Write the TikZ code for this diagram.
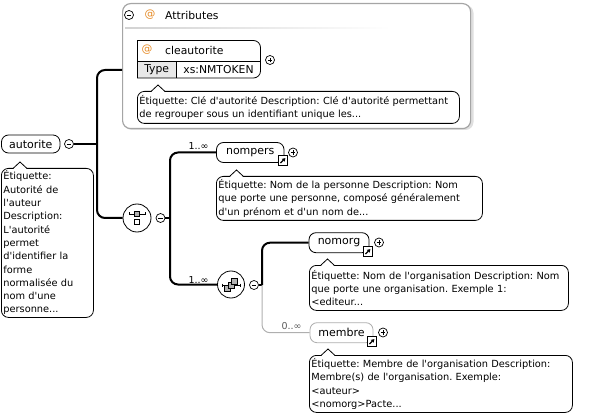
\documentclass[tikz,border=0pt]{standalone}
\usepackage{fontspec}
\setmainfont{DejaVu Sans}
\usetikzlibrary{arrows.meta}

\definecolor{attcol}{RGB}{230,140,40}
\definecolor{grpgray}{RGB}{165,165,165}
\definecolor{optgray}{RGB}{175,175,175}
\newcommand{\ap}{\textquotesingle}
\frenchspacing

\begin{document}
\begin{tikzpicture}[x=1pt,y=-1pt,
  elem/.style={draw, fill=white, rounded corners=7pt, line width=0.8pt, inner sep=0pt,
    minimum height=20pt, font=\fontsize{11}{12}\selectfont},
  annot/.style={draw, fill=white, rounded corners=7pt, line width=0.8pt, anchor=north west,
    align=left, inner xsep=2pt, inner ysep=1pt, font=\fontsize{9.8}{13.3}\selectfont},
  pm/.style={circle, draw, fill=white, inner sep=0pt, minimum size=9pt, line width=0.7pt},
  lnk/.style={draw, fill=white, inner sep=0pt, minimum size=9.5pt, line width=0.8pt},
  conn/.style={line width=2pt, rounded corners=8pt},
  optconn/.style={line width=1pt, optgray, rounded corners=8pt},
  card/.style={font=\fontsize{9.5}{10}\selectfont, inner sep=0pt},
  txt/.style={font=\fontsize{10.8}{12}\selectfont, inner sep=0pt},
]
\useasboundingbox (0,0) rectangle (595,417);

% root element
\node[elem, minimum width=58.5pt, minimum height=18pt] (autorite) at (30.75,144) {autorite};
\node[pm] (maut) at (69,144) {};
\coordinate (jaut) at (97,144);
\node[annot, text width=88pt, minimum height=149pt] (aaut) at (1,168)
  {Étiquette:\\Autorité de\\l\ap auteur\\Description:\\L\ap autorité\\permet\\d\ap identifier la\\forme\\normalisée du\\nom d\ap une\\personne...};

% attributes group
\fill[gray!25, rounded corners=8pt] (124,5) rectangle (473.5,130);
\node[draw=grpgray, line width=1.2pt, rounded corners=8pt, fill=white, anchor=north west,
  minimum width=348pt, minimum height=125pt, inner sep=0pt] (attrs) at (122,3) {};
\coordinate (attin) at (122,70);
\node[pm] (matt) at (129,15) {};
\node[txt, text=attcol] (atsym) at (150,15) {@};
\node[txt, anchor=west] (atlbl) at (165,15) {Attributes};
\shade[left color=gray!35, right color=white] (125,27.5) rectangle (390,28.5);

\fill[gray!18] (137,61) rectangle (176.5,78);
\draw[line width=0.8pt, rounded corners=7pt] (137,40.5) -- (260.5,40.5) -- (260.5,78) -- (137,78);
\draw[line width=0.8pt] (137,40.5) -- (137,78);
\draw[line width=0.6pt] (137,61) -- (260.5,61) (176.5,61) -- (176.5,78);
\node[txt, text=attcol] (clesym) at (147,50) {@};
\node[txt, anchor=west] (cle) at (165,50) {cleautorite};
\node[txt] (cletype) at (156.7,70) {Type};
\node[txt] (cleval) at (218.5,70) {xs:NMTOKEN};
\node[pm] (pcle) at (270,60) {};
\node[annot, text width=318pt, minimum height=32pt] (acle) at (137,91)
  {Étiquette: Clé d\ap autorité Description: Clé d\ap autorité permettant\\de regrouper sous un identifiant unique les...};

% sequence
\node[circle, draw, fill=white, line width=0.8pt, minimum size=28pt, inner sep=0pt] (seq) at (137,218) {};
\draw[line width=0.6pt] (129,214) -- (145,214) (129,212.5) -- (129,215.5) (145,212.5) -- (145,215.5);
\draw[fill=gray!60, line width=0.6pt] (134.3,211.3) rectangle (139.7,216.7);
\draw[fill=white, line width=0.6pt] (134.5,219.5) rectangle (139.5,224.5);
\node[pm] (mseq) at (160.5,218) {};
\coordinate (jseq) at (170,218);

\node[elem, minimum width=67.5pt] (nompers) at (250.25,152.5) {nompers};
\node[lnk] (lnomp) at (283,160.5) {};
\node[pm] (pnomp) at (293,152.5) {};
\node[card] (c1) at (198.5,146) {1..∞};
\node[annot, text width=262pt, minimum height=44pt] (anomp) at (216,176)
  {Étiquette: Nom de la personne Description: Nom\\que porte une personne, composé généralement\\d\ap un prénom et d\ap un nom de...};

% choice
\node[circle, draw, fill=white, line width=0.8pt, minimum size=27pt, inner sep=0pt] (cho) at (231,284.5) {};
\draw[line width=0.6pt] (222,285) -- (240,285) (222,283.5) -- (222,286.5) (240,283.5) -- (240,286.5);
\foreach \dx in {-3.5,0,3.5}
  \draw[fill=gray!60, line width=0.6pt] (231+\dx-2.9,285-\dx-2.9) rectangle (231+\dx+2.9,285-\dx+2.9);
\node[pm] (mcho) at (254,285) {};
\coordinate (jcho) at (262,285);
\node[card] (c2) at (198.5,280) {1..∞};

\node[elem, minimum width=60pt] (nomorg) at (339,242.7) {nomorg};
\node[lnk] (lnomo) at (368,251.5) {};
\node[pm] (pnomo) at (379,242.5) {};
\node[annot, text width=255pt, minimum height=45pt] (anomo) at (309,265)
  {Étiquette: Nom de l\ap organisation Description: Nom\\que porte une organisation. Exemple 1:\\<editeur...};

\node[elem, draw=optgray, minimum width=63pt] (membre) at (341.5,332.7) {membre};
\node[lnk] (lmem) at (372,341.5) {};
\node[pm] (pmem) at (383,332.5) {};
\node[card, text=gray!70!black] (c3) at (291.5,326) {0..∞};
\node[annot, text width=259pt, minimum height=57pt] (amem) at (309,355)
  {Étiquette: Membre de l\ap organisation Description:\\Membre(s) de l\ap organisation. Exemple:\\<auteur>\\<nomorg>Pacte...};

% connectors
\draw[conn] (maut) -- (jaut);
\draw[conn] (attin) -| (jaut) |- (seq.west);
\draw[conn] (mseq) -- (jseq);
\draw[conn] (nompers.west) -| (jseq) |- (cho.west);
\draw[conn] (mcho) -- (jcho);
\draw[conn] (nomorg.west) -| (jcho);
\draw[optconn] (jcho) |- (membre.west);

% notches of the annotations
\foreach \x/\y in {20/168, 158/91, 236.5/176, 327.5/265, 328/355} {
  \fill[white] (\x-6.5,\y+0.8) -- (\x,\y-6) -- (\x+6.5,\y+0.8) -- cycle;
  \draw[line width=0.8pt] (\x-6.5,\y) -- (\x,\y-6) -- (\x+6.5,\y);
}

% signs and links
\foreach \m in {maut,matt,mseq,mcho}
  \draw[line width=0.7pt] ([xshift=-2.4pt]\m.center) -- ([xshift=2.4pt]\m.center);
\foreach \p in {pcle,pnomp,pnomo,pmem}
  \draw[line width=0.7pt] ([xshift=-2.4pt]\p.center) -- ([xshift=2.4pt]\p.center)
    ([yshift=-2.4pt]\p.center) -- ([yshift=2.4pt]\p.center);
\foreach \l in {lnomp,lnomo,lmem}
  \draw[line width=1.1pt, -{Triangle[length=3.2pt,width=3.8pt]}]
    ([shift={(-2.6pt,-2.6pt)}]\l.center) -- ([shift={(2.4pt,2.4pt)}]\l.center);
\end{tikzpicture}
\end{document}
